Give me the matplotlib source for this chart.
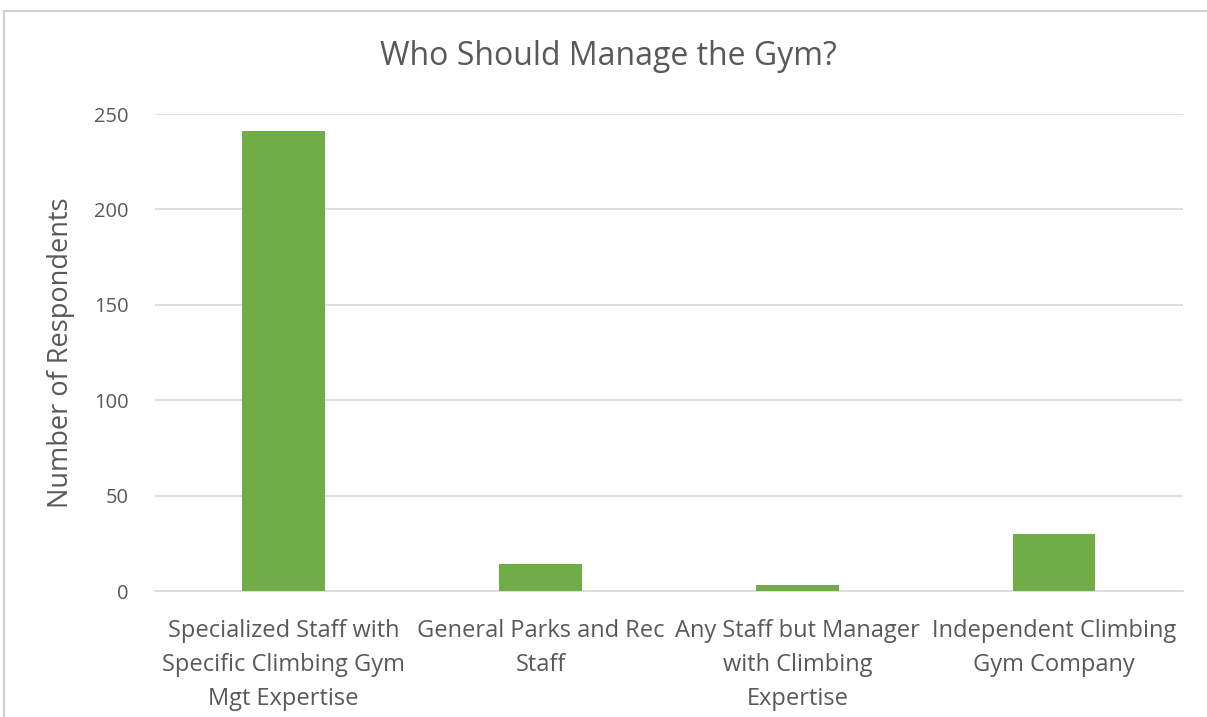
import matplotlib.pyplot as plt
from matplotlib.patches import Rectangle
import numpy as np

categories = ['Specialized Staff with\nSpecific Climbing Gym\nMgt Expertise',
              'General Parks and Rec\nStaff',
              'Any Staff but Manager\nwith Climbing\nExpertise',
              'Independent Climbing\nGym Company']
respondents = [241, 14, 3, 30]
y_ticks = [0, 50, 100, 150, 200, 250]

plt.rcParams['font.family'] = ['Open Sans', 'DejaVu Sans']
text_gray = '#595959'

fig = plt.figure(figsize=(12.07, 7.17), dpi=100)
ax = fig.add_axes([0.1284, 0.1757, 0.8516, 0.6653])

x = np.arange(len(categories))
ax.bar(x, respondents, width=0.32, color='#70AD47', zorder=3)

ax.set_xlim(-0.5, len(categories) - 0.5)
ax.set_ylim(0, 250)
ax.set_yticks(y_ticks)
ax.set_xticks(x)
ax.set_xticklabels(categories, fontsize=17, color=text_gray, linespacing=1.55)
ax.tick_params(axis='y', labelsize=14.5, labelcolor=text_gray, length=0, pad=19)
ax.tick_params(axis='x', length=0, pad=20)
ax.grid(axis='y', color='#d9d9d9', linewidth=1.2, zorder=0)
for side in ['top', 'right', 'left']:
    ax.spines[side].set_visible(False)
ax.spines['bottom'].set_color('#d9d9d9')
ax.spines['bottom'].set_linewidth(1.2)

ax.set_ylabel('Number of Respondents', fontsize=19.5, color=text_gray)
ax.yaxis.set_label_coords(-0.078, 0.5)
fig.text(0.504, 0.921, 'Who Should Manage the Gym?', fontsize=23, color=text_gray,
         ha='center', va='center')

# light frame around the chart area
fig.patches.append(Rectangle((0.003, -0.01), 1.02, 0.995, transform=fig.transFigure,
                             fill=False, edgecolor='#d0d0d0', linewidth=1.5))

plt.savefig('out.png', dpi=100)
